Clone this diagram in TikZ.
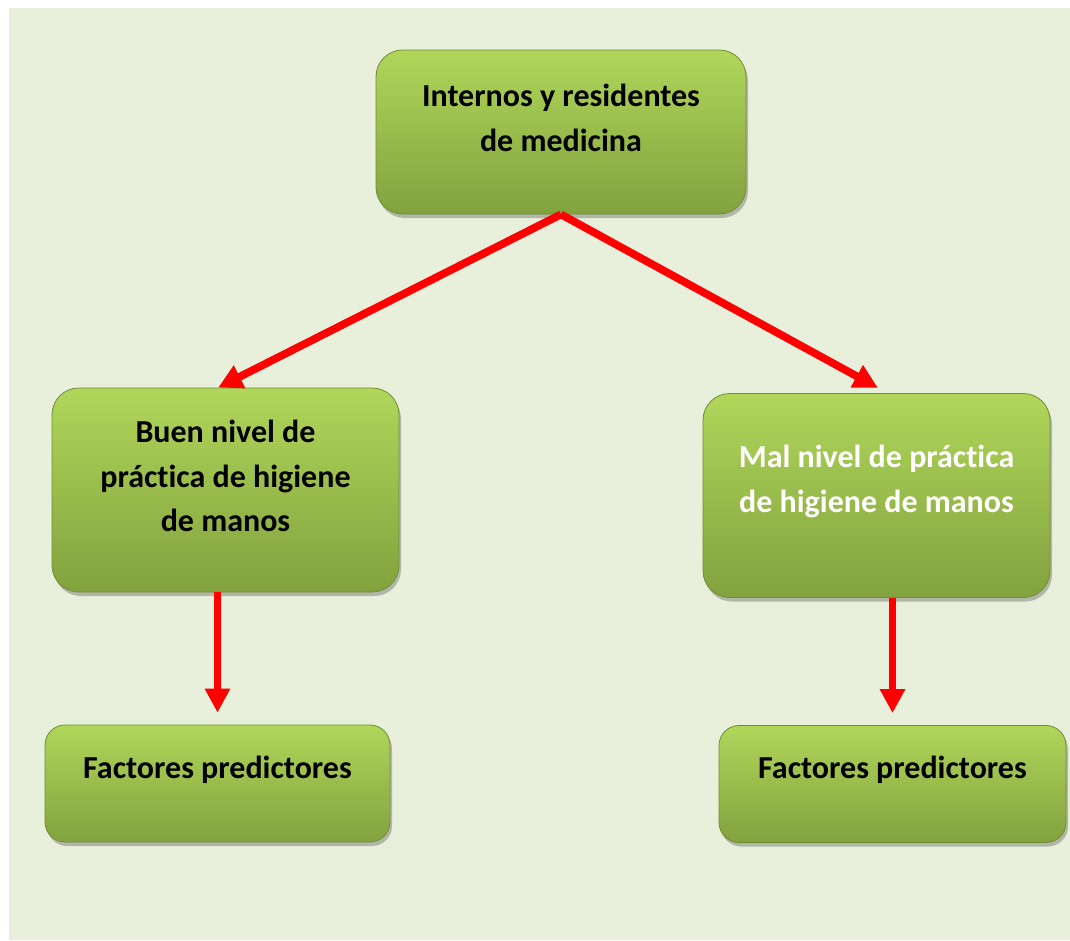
\documentclass[tikz,border=0pt]{standalone}
\usepackage{fontspec}
\setmainfont{Carlito}[Ligatures={NoCommon,NoRare}, RawFeature={-calt}]
\usetikzlibrary{arrows.meta, positioning, shadows}
\definecolor{pagegreen}{RGB}{232,240,220}
\definecolor{boxtop}{RGB}{176,214,90}
\definecolor{boxbottom}{RGB}{130,162,62}
\definecolor{boxline}{RGB}{112,142,52}
\definecolor{arrowred}{RGB}{255,0,0}

\begin{document}
\begin{tikzpicture}[
    x=0.75pt, y=-0.75pt,
    box/.style={rectangle, draw=boxline, line width=0.6pt, top color=boxtop, bottom color=boxbottom,
                rounded corners=20pt, inner sep=0pt,
                drop shadow={shadow xshift=1.5pt, shadow yshift=-3pt, opacity=0.35, fill=black!70}},
    smallbox/.style={box, rounded corners=15pt},
    txt/.style={align=center, font=\fontsize{24}{33.5}\selectfont\bfseries, inner sep=0pt},
    arrow/.style={-{Triangle[length=18pt, width=18pt]}, line width=5.8pt, arrowred}
]
\useasboundingbox (0,0) rectangle (1070,940);
\fill[pagegreen] (9,8) rectangle (1070,940);

% Boxes
\node[box, minimum width=277.5pt, minimum height=123pt] (top) at (561,132) {};
\node[box, minimum width=260.25pt, minimum height=153pt] (buen) at (225.5,490) {};
\node[box, minimum width=260.25pt, minimum height=153pt] (mal) at (876.5,495.5) {};
\node[smallbox, minimum width=258.75pt, minimum height=87.75pt] (fbuen) at (217.5,783.5) {};
\node[smallbox, minimum width=260.25pt, minimum height=87.75pt] (fmal) at (892.5,784) {};

% Texts
\node[txt] (topT) at ([yshift=10.5pt]top.center) {Internos y residentes\\de medicina};
\node[txt] (buenT) at ([yshift=10.5pt]buen.center) {Buen nivel de\\práctica de higiene\\de manos};
\node[txt, text=white] (malT) at ([yshift=10.5pt]mal.center) {Mal nivel de práctica\\de higiene de manos};
\node[txt] (fbuenT) at ([yshift=10.5pt]fbuen.center) {Factores predictores};
\node[txt] (fmalT) at ([yshift=10.5pt]fmal.center) {Factores predictores};

% Arrows
\draw[arrow] (top.south) -- ([xshift=-5.5pt]buen.north);
\draw[arrow] (top.south) -- ([xshift=1pt, yshift=4pt]mal.north);
\draw[arrow] (buen.south -| fbuen.north) -- ([yshift=9pt]fbuen.north);
\draw[arrow] (mal.south -| fmal.north) -- ([yshift=9pt]fmal.north);

\end{tikzpicture}
\end{document}
